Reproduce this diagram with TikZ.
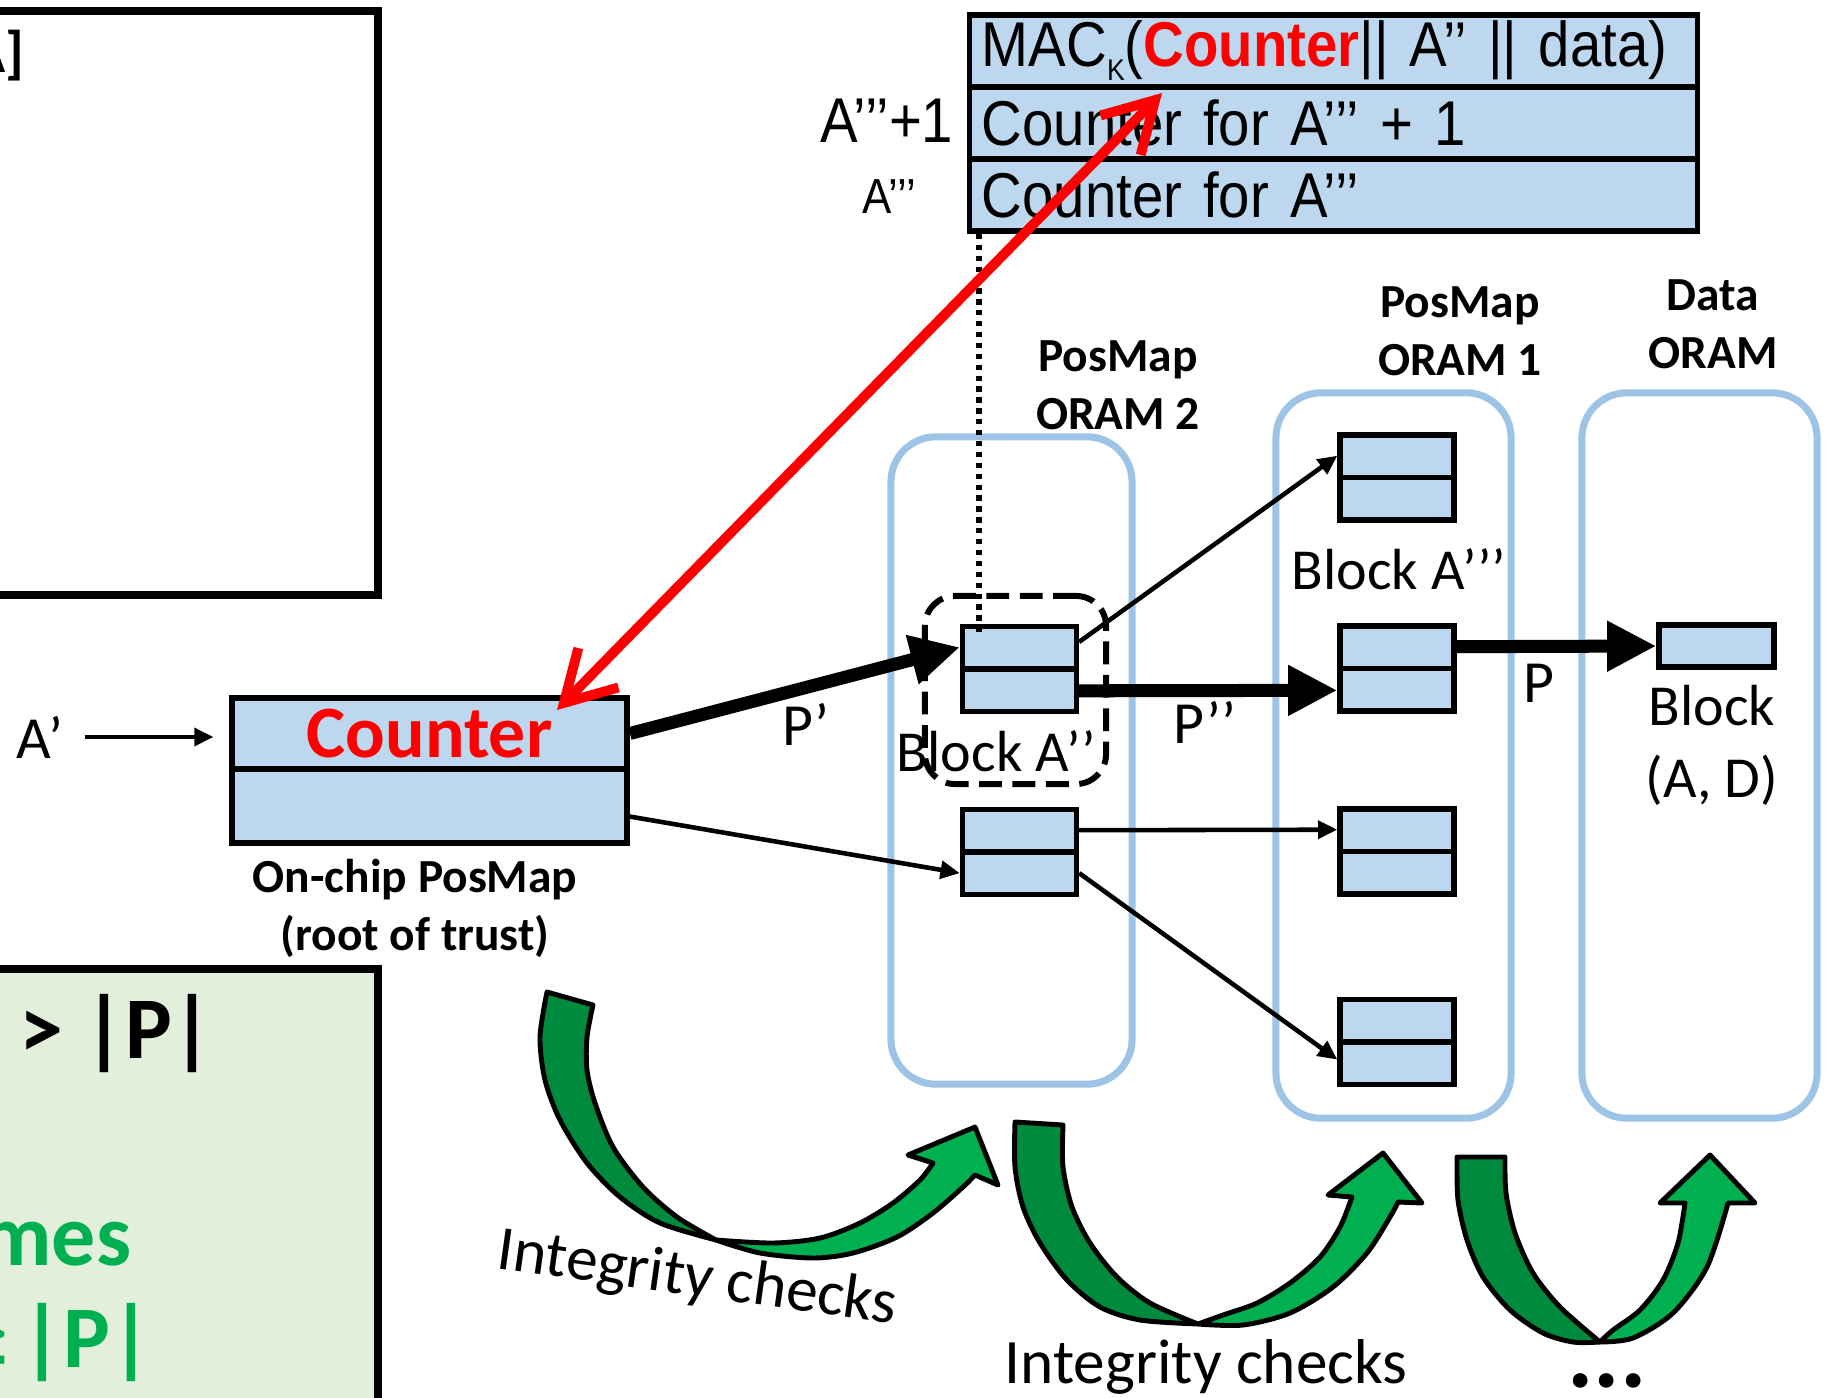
\documentclass[tikz,border=0pt]{standalone}
\usepackage{fontspec}
\setmainfont{Carlito}
\newfontfamily\macfont{Liberation Sans}[FakeStretch=0.89]
\usetikzlibrary{arrows.meta,positioning}

\definecolor{blkblue}{RGB}{189,215,238}
\definecolor{oramblue}{RGB}{157,195,230}
\definecolor{notegreen}{RGB}{226,239,218}
\definecolor{okgreen}{RGB}{0,176,80}
\definecolor{backgreen}{RGB}{0,138,62}

\begin{document}
\begin{tikzpicture}[x=0.01cm,y=-0.01cm,
  blk/.style={draw,line width=1.5pt,fill=blkblue,inner sep=0pt,
    minimum width=1.14cm,minimum height=0.85cm,
    path picture={\draw[line width=1.5pt] (path picture bounding box.west)
      -- (path picture bounding box.east);}},
  cbox/.style={draw,line width=1.6pt,fill=blkblue,inner sep=0pt,
    minimum width=3.95cm,minimum height=0.71cm},
  macrow/.style={draw,line width=1.6pt,fill=blkblue,minimum height=0.72cm,
    text width=200pt,align=left,inner xsep=3.5pt,inner ysep=0pt,
    font=\macfont\fontsize{18}{21}\selectfont},
  oram/.style={draw=oramblue,line width=2pt,rounded corners=0.45cm,inner sep=0pt},
  hdr/.style={font=\bfseries\fontsize{13.5}{16.5}\selectfont,align=center},
  lbl/.style={font=\fontsize{16.5}{19.8}\selectfont},
  plbl/.style={font=\fontsize{17}{20}\selectfont},
  ichk/.style={font=\fontsize{18}{21}\selectfont,inner sep=0pt},
  link/.style={line width=1.3pt,-{Triangle[length=5.5pt,width=5pt]}},
  bus/.style={line width=3.7pt,-{Triangle[length=14pt,width=13.5pt]}},
  garrow/.style={draw=black,line width=1.4pt,line join=round},
  note/.style={font=\bfseries\fontsize{25}{30}\selectfont,inner sep=0pt}
]
\useasboundingbox (0,0) rectangle (1831,1397);
\clip (0,0) rectangle (1831,1397);

% panels on the left, cut by the page edge
\draw[line width=2pt] (-20,11) rectangle (378,595);
\node[font=\bfseries\fontsize{16.5}{19.8}\selectfont,inner sep=0pt,anchor=base east] (addr) at (25,73) {A]};
\draw[line width=2pt,fill=notegreen] (-20,969) rectangle (378,1430);
\node[note,anchor=base west] (cond) at (19,1058) {> |P|};
\node[note,text=okgreen,anchor=base east] (times) at (132,1265) {mes};
\node[note,text=okgreen,anchor=base east] (bound) at (153,1367) {≥\hspace{-1.8pt} |P|};

% MAC'd block contents
\node[macrow] (macA) at (1333.5,51) {MAC\raisebox{-4pt}{\fontsize{8.5}{9}\selectfont K}(\textcolor{red}{\bfseries Counter}|| A’’ || data)};
\node[macrow] (macB) at (1333.5,123) {Counter for A’’’ + 1};
\node[macrow] (macC) at (1333.5,195) {Counter for A’’’};
\node[font=\macfont\fontsize{18}{21}\selectfont,inner sep=0pt,anchor=base east] (lnext) at (954,143) {A’’’+1};
\node[font=\macfont\fontsize{14}{16}\selectfont,inner sep=0pt,anchor=base] (lcur) at (889,213) {A’’’};

% the ORAMs
\node[oram,minimum width=2.41cm,minimum height=6.47cm] (oram2) at (1011.5,760.5) {};
\node[oram,minimum width=2.35cm,minimum height=7.25cm] (oram1) at (1393.5,755.5) {};
\node[oram,minimum width=2.35cm,minimum height=7.25cm] (oramd) at (1699.5,755.5) {};
\node[hdr] (hd2) at (1118,385) {PosMap\\ORAM 2};
\node[hdr] (hd1) at (1460,331) {PosMap\\ORAM 1};
\node[hdr] (hdd) at (1713,324) {Data\\ORAM};

\node[draw,line width=1.7pt,dash pattern=on 6.5pt off 3pt,rounded corners=0.3cm,
  minimum width=1.81cm,minimum height=1.88cm] (sel) at (1015.5,690) {};

\node[blk] (bA2) at (1019.5,669) {};
\node[blk] (bB2) at (1019.5,852) {};
\node[blk] (b11) at (1397,477.5) {};
\node[blk] (b12) at (1397,668.5) {};
\node[blk] (b13) at (1397,851.5) {};
\node[blk] (b14) at (1397,1042) {};
\node[draw,line width=1.5pt,fill=blkblue,inner sep=0pt,minimum width=1.15cm,minimum height=0.42cm] (dblk) at (1716.5,646) {};

\node[lbl] (tA2) at (996,751) {Block A’’};
\node[lbl] (tA3) at (1399,569) {Block A’’’};
\node[lbl,align=center,font=\fontsize{16.5}{20.5}\selectfont] (tD) at (1712,745) {Block\\(A, D)};

\coordinate (dotend) at (979,637);
\draw[line width=1.5pt,dash pattern=on 1.5pt off 1.6pt] (macC.south -| dotend) -- (dotend);

% on-chip PosMap
\node[cbox,text=red,font=\bfseries\fontsize{21}{25}\selectfont] (cntup) at (429.5,733.5) {Counter};
\node[cbox,minimum height=0.74cm] (cntlo) at (429.5,806) {};
\node[hdr] (onchip) at (415,908) {On-chip PosMap\\(root of trust)};
\node[plbl] (ain) at (40,737) {A’};
\draw[link,shorten <=2.6pt,shorten >=4.4pt] (ain.east) -- (ain.east -| cntup.west);

% paths through the recursion
\draw[bus] (cntup.east) -- ([yshift=6.2pt]bA2.west);
\draw[link] ([yshift=-3pt]cntlo.east) -- ([yshift=-6pt]bB2.west);
\draw[bus] ([yshift=-6.2pt]bA2.east) -- ([yshift=-6.2pt]b12.west);
\draw[link] ([yshift=7.7pt]bA2.east) -- ([yshift=6.2pt]b11.west);
\draw[link] ([yshift=6.2pt]bB2.east) -- ([yshift=6.2pt]b13.west);
\draw[link] ([yshift=-6pt]bB2.east) -- ([yshift=-5pt]b14.west);
\draw[bus] ([yshift=6.2pt]b12.east) -- (dblk.west);
\node[plbl] (lp1) at (806,724) {P’};
\node[plbl] (lp2) at (1205,722) {P’’};
\node[plbl] (lp0) at (1539,683) {P};

% integrity check arrows
\filldraw[garrow,fill=backgreen] plot[smooth] coordinates {(547,992) (540,1037) (545,1080) (560,1120) (587,1163) (620,1197) (660,1223) (716,1240)}
  -- plot[smooth] coordinates {(716,1240) (677,1217) (643,1187) (613,1147) (595,1103) (587,1070) (587,1037) (593,1005)} -- cycle;
\filldraw[garrow,fill=okgreen] plot[smooth] coordinates {(716,1240) (760,1253) (813,1258) (853,1253) (897,1237) (933,1213) (963,1187) (975,1175)}
  -- (998,1185) -- (975,1127) -- (908,1155) -- (933,1163)
  -- plot[smooth] coordinates {(933,1163) (920,1180) (893,1203) (860,1223) (820,1238) (773,1243) (716,1240)} -- cycle;
\filldraw[garrow,fill=backgreen] plot[smooth] coordinates {(1015,1122) (1015,1167) (1023,1207) (1040,1243) (1067,1280) (1100,1307) (1140,1320) (1198,1324)}
  -- plot[smooth] coordinates {(1198,1324) (1150,1303) (1117,1277) (1090,1243) (1072,1207) (1063,1167) (1063,1125)} -- cycle;
\filldraw[garrow,fill=okgreen] plot[smooth] coordinates {(1198,1324) (1243,1325) (1290,1313) (1333,1287) (1367,1253) (1390,1217) (1398,1202)}
  -- (1422,1203) -- (1383,1153) -- (1328,1195) -- (1352,1197)
  -- plot[smooth] coordinates {(1352,1197) (1340,1227) (1320,1257) (1290,1283) (1257,1303) (1223,1315) (1198,1324)} -- cycle;
\filldraw[garrow,fill=backgreen] plot[smooth] coordinates {(1457,1157) (1458,1200) (1467,1240) (1483,1277) (1510,1310) (1543,1333) (1573,1342) (1600,1342)}
  -- plot[smooth] coordinates {(1600,1342) (1560,1307) (1533,1273) (1515,1233) (1506,1193) (1505,1157)} -- cycle;
\filldraw[garrow,fill=okgreen] plot[smooth] coordinates {(1600,1342) (1633,1338) (1673,1313) (1707,1267) (1728,1203)}
  -- (1755,1203) -- (1710,1155) -- (1660,1203) -- (1685,1203)
  -- plot[smooth] coordinates {(1685,1203) (1678,1243) (1663,1280) (1640,1310) (1613,1330) (1600,1342)} -- cycle;
\node[ichk,rotate=-8,anchor=base] (ic1) at (695,1296) {Integrity checks};
\node[ichk,anchor=base] (ic2) at (1206,1383) {Integrity checks};
\node[font=\bfseries\fontsize{28}{30}\selectfont,inner sep=0pt,anchor=base] (more) at (1607,1387) {...};

% counter is bound into the MAC
\coordinate (redtop) at (1162,93);
\coordinate (redbot) at (557,710);
\draw[red,line width=2.8pt,{Straight Barb[length=14pt,width=16pt]}-{Straight Barb[length=14pt,width=16pt]}] (redbot) -- (redtop);
\end{tikzpicture}
\end{document}
